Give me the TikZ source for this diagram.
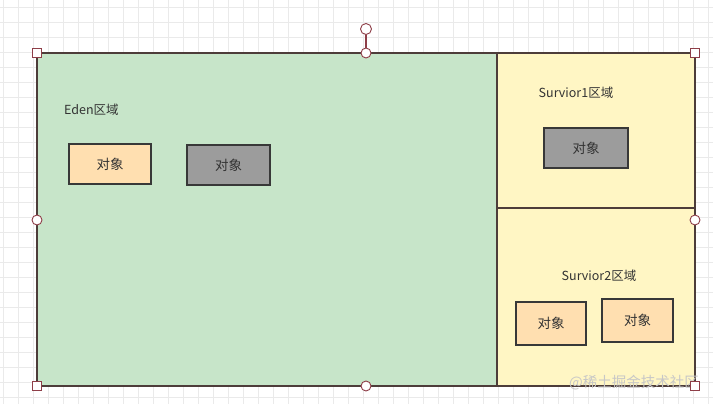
\documentclass[tikz,border=0pt]{standalone}
\usepackage{fontspec}
\setmainfont{Noto Sans CJK SC}
\definecolor{edenfill}{HTML}{C7E5C9}
\definecolor{survfill}{HTML}{FFF6C4}
\definecolor{objorange}{HTML}{FFDFB0}
\definecolor{objgray}{HTML}{9C9C9C}
\definecolor{regionline}{HTML}{4D3D3A}
\definecolor{objline}{HTML}{383838}
\definecolor{handle}{HTML}{8E3E48}
\definecolor{gridc}{HTML}{EAEAEA}
\definecolor{txt}{HTML}{333333}
\tikzset{
  region/.style={draw=regionline, line width=2pt, inner sep=0pt},
  objbox/.style={draw=objline, line width=1.8pt, inner sep=0pt, font=\fontsize{13.5}{15}\selectfont, text=txt},
  lbl/.style={font=\fontsize{12.5}{15}\selectfont, text=txt, inner sep=0pt},
  sqhandle/.style={draw=handle, fill=white, line width=0.9pt, minimum size=9pt, inner sep=0pt, rectangle},
  cihandle/.style={draw=handle, fill=white, line width=0.9pt, minimum size=10pt, inner sep=0pt, circle},
}
\begin{document}
\begin{tikzpicture}[x=1pt, y=-1pt]
\useasboundingbox (0,0) rectangle (713,404);
\fill[white] (0,0) rectangle (713,404);
% grid
\foreach \i in {0,...,47} {\draw[gridc, line width=0.7pt] (\i*15+3,0) -- (\i*15+3,404);}
\foreach \j in {0,...,27} {\draw[gridc, line width=0.7pt] (0,\j*15+7) -- (713,\j*15+7);}
% regions
\node[region, fill=edenfill, minimum width=460pt, minimum height=333pt] (eden) at (267,219.5) {};
\node[region, fill=survfill, minimum width=198pt, minimum height=155pt] (s1) at (596,130.5) {};
\node[region, fill=survfill, minimum width=198pt, minimum height=178pt] (s2) at (596,297) {};
% labels
\node[lbl, anchor=west] (edenlbl) at (64,110) {Eden区域};
\node[lbl] (s1lbl) at (576,93) {Survior1区域};
\node[lbl] (s2lbl) at (599,276) {Survior2区域};
% objects
\node[objbox, fill=objorange, minimum width=82pt, minimum height=40pt] (o1) at (110,164) {对象};
\node[objbox, fill=objgray, minimum width=83pt, minimum height=40pt] (o2) at (228.5,165) {对象};
\node[objbox, fill=objgray, minimum width=84pt, minimum height=40pt] (o3) at (586,148) {对象};
\node[objbox, fill=objorange, minimum width=70pt, minimum height=43pt] (o4) at (551,323.5) {对象};
\node[objbox, fill=objorange, minimum width=71pt, minimum height=43pt] (o5) at (637.5,320.5) {对象};
% watermark
\node[font=\fontsize{14.5}{16}\selectfont, text=black!22, anchor=east, inner sep=0pt] (wm) at (699,383) {@稀土掘金技术社区};
% selection handles
\node[sqhandle] (h1) at (37,53) {};
\node[sqhandle] (h2) at (695,53) {};
\node[sqhandle] (h3) at (37,386) {};
\node[sqhandle] (h4) at (695,386) {};
\node[cihandle] (c1) at (366,53) {};
\node[cihandle] (c2) at (37,220) {};
\node[cihandle] (c3) at (695,220) {};
\node[cihandle] (c4) at (366,386) {};
\node[cihandle, minimum size=11pt] (rot) at (366,29) {};
\draw[handle, line width=1.2pt] (rot) -- (c1);
\end{tikzpicture}
\end{document}
